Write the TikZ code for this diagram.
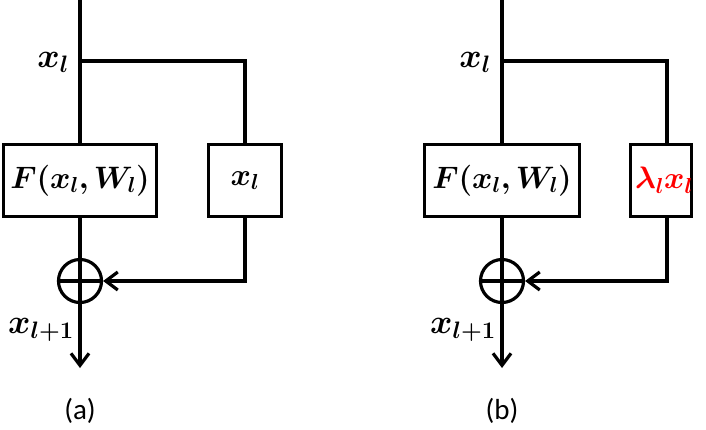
\RequirePackage{fix-cm}
\documentclass[tikz,border=0pt]{standalone}
\usepackage{fontspec}
\usepackage{bm}
\newfontfamily\capfont{Carlito}
\usetikzlibrary{arrows.meta}
\tikzset{
  ln/.style={line width=3.2pt, line cap=butt},
  blk/.style={draw, line width=3.2pt, rectangle, inner sep=0pt, minimum height=72pt, font=\fontsize{31}{33}\selectfont},
  sumnode/.style={draw, line width=3.2pt, circle, inner sep=0pt, minimum size=43pt},
  arr/.style={ln, -{Straight Barb[length=12pt,width=18pt,line width=3.2pt]}},
  mlab/.style={inner sep=0pt, font=\fontsize{34}{36}\selectfont},
  caplab/.style={inner sep=0pt, font=\capfont\fontsize{29}{31}\selectfont}
}
\begin{document}
\begin{tikzpicture}[x=1pt,y=-1pt]
\useasboundingbox (0,0) rectangle (706,429);
% ---------- (a)
\coordinate (ta) at (80,0);
\coordinate (ja) at (80,61);
\coordinate (ka) at (245,61);
\node[blk, minimum width=153pt] (Fa) at (80,180.5) {$\bm{F(x_l,W_l)}$};
\node[blk, minimum width=73pt] (Xa) at (245,180.5) {$\bm{x_l}$};
\node[sumnode] (Sa) at (80,281) {};
\coordinate (ea) at (80,368);
\draw[ln] (ta) -- (Fa.north);
\draw[ln] (ja) -- (ka) -- (Xa.north);
\draw[ln] (Fa.south) -- (Sa.north);
\draw[ln] (Sa.west) -- (Sa.east);
\draw[ln] (Sa.north) -- (Sa.south);
\draw[arr] (Sa.south) -- (ea);
\draw[arr] (Xa.south) |- (Sa.east);
\node[mlab, anchor=base east] (la1) at (69,67) {$\bm{x_l}$};
\node[mlab, anchor=base east] (la2) at (74,333) {$\bm{x_{l+1}}$};
\node[caplab] (ca) at (80,411) {(a)};
% ---------- (b)
\coordinate (tb) at (502,0);
\coordinate (jb) at (502,61);
\coordinate (kb) at (667,61);
\node[blk, minimum width=155pt] (Fb) at (502,180.5) {$\bm{F(x_l,W_l)}$};
\node[blk, minimum width=61pt] (Xb) at (661,180.5) {};
\node[mlab, text=red, font=\fontsize{31}{33}\selectfont] (Lb) at (664,180.5) {$\bm{\lambda_l x_l}$};
\node[sumnode] (Sb) at (502,281) {};
\coordinate (eb) at (502,368);
\draw[ln] (tb) -- (Fb.north);
\draw[ln] (jb) -- (kb) -- (kb |- Xb.north);
\draw[ln] (Fb.south) -- (Sb.north);
\draw[ln] (Sb.west) -- (Sb.east);
\draw[ln] (Sb.north) -- (Sb.south);
\draw[arr] (Sb.south) -- (eb);
\draw[arr] (kb |- Xb.south) |- (Sb.east);
\node[mlab, anchor=base east] (lb1) at (491,67) {$\bm{x_l}$};
\node[mlab, anchor=base east] (lb2) at (496,333) {$\bm{x_{l+1}}$};
\node[caplab] (cb) at (502,411) {(b)};
\end{tikzpicture}
\end{document}
